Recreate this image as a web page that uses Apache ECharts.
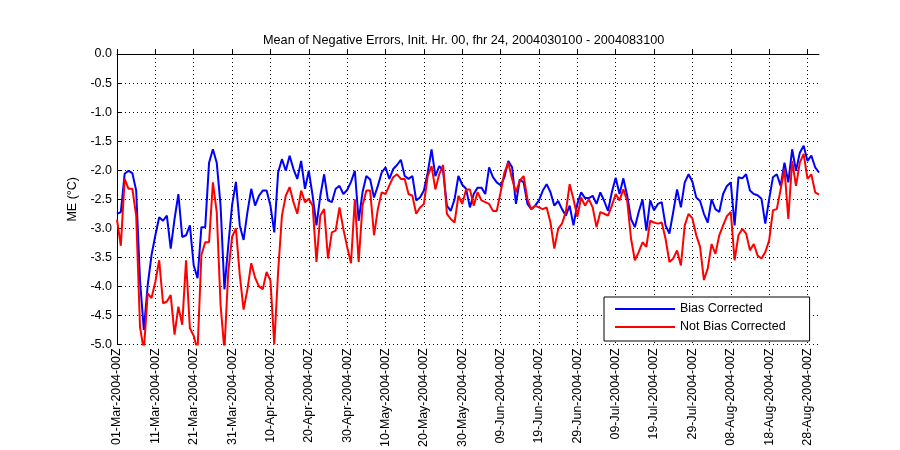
<!DOCTYPE html>
<html>
<head>
<meta charset="utf-8">
<title>Mean of Negative Errors</title>
<script src="https://cdn.jsdelivr.net/npm/echarts@6/dist/echarts.min.js"></script>
<style>
  html, body { margin: 0; padding: 0; background: #fff; }
  #chart { width: 900px; height: 450px; }
</style>
</head>
<body>
<div id="chart"></div>
<script>
// 日期 01-Mar-2004 .. 31-Aug-2004, 每天一个点
var startDay = [2004, 2, 1];
var dayCount = 184;
var monthNames = ['Jan', 'Feb', 'Mar', 'Apr', 'May', 'Jun', 'Jul', 'Aug', 'Sep', 'Oct', 'Nov', 'Dec'];

var biasCorrected = [
  -2.75, -2.72, -2.06, -2.01, -2.05, -2.35, -3.90, -4.75, -3.98, -3.46,
  -3.12, -2.81, -2.87, -2.78, -3.35, -2.84, -2.41, -3.15, -3.12, -2.95,
  -3.64, -3.86, -2.98, -2.98, -1.87, -1.64, -1.87, -2.61, -4.05, -3.30,
  -2.60, -2.20, -2.95, -3.20, -2.72, -2.32, -2.61, -2.44, -2.35, -2.35,
  -2.61, -3.07, -2.04, -1.81, -2.01, -1.75, -1.98, -2.15, -1.84, -2.32,
  -2.01, -2.44, -2.95, -2.44, -2.07, -2.52, -2.55, -2.32, -2.27, -2.41,
  -2.34, -2.20, -2.01, -2.87, -2.38, -2.10, -2.16, -2.47, -2.27, -2.04,
  -1.95, -2.15, -1.98, -1.91, -1.82, -2.10, -2.15, -2.10, -2.52, -2.47,
  -2.35, -2.04, -1.64, -2.10, -1.93, -2.01, -2.61, -2.70, -2.50, -2.10,
  -2.25, -2.32, -2.64, -2.41, -2.30, -2.30, -2.41, -1.95, -2.12, -2.21,
  -2.26, -2.12, -1.84, -1.95, -2.58, -2.16, -2.21, -2.58, -2.67, -2.61,
  -2.52, -2.35, -2.24, -2.38, -2.61, -2.53, -2.67, -2.78, -2.61, -2.95,
  -2.58, -2.38, -2.48, -2.48, -2.44, -2.58, -2.38, -2.53, -2.70, -2.38,
  -2.13, -2.41, -2.14, -2.44, -2.84, -2.98, -2.72, -2.50, -3.04, -2.52,
  -2.69, -2.58, -2.55, -2.95, -3.09, -2.72, -2.33, -2.64, -2.21, -2.07,
  -2.20, -2.47, -2.53, -2.75, -2.90, -2.50, -2.67, -2.72, -2.41, -2.27,
  -2.21, -2.95, -2.12, -2.14, -2.07, -2.35, -2.41, -2.43, -2.49, -2.92,
  -2.50, -2.12, -2.07, -2.27, -1.87, -2.21, -1.64, -2.01, -1.70, -1.58,
  -1.84, -1.75, -1.95, -2.04
];

var notBiasCorrected = [
  -2.85, -3.30, -2.15, -2.32, -2.32, -2.78, -4.70, -5.10, -4.12, -4.20,
  -3.92, -3.55, -4.29, -4.26, -4.15, -4.83, -4.35, -4.66, -3.55, -4.72,
  -4.85, -5.10, -3.46, -3.24, -3.24, -2.21, -2.72, -4.32, -5.10, -3.75,
  -3.15, -3.00, -3.80, -4.40, -4.05, -3.60, -3.85, -4.00, -4.05, -3.75,
  -3.90, -5.00, -3.75, -2.78, -2.44, -2.29, -2.55, -2.75, -2.35, -2.55,
  -2.49, -2.61, -3.58, -2.78, -2.67, -3.52, -3.07, -3.04, -2.64, -3.01,
  -3.32, -3.60, -2.50, -3.58, -2.61, -2.35, -2.35, -3.12, -2.67, -2.38,
  -2.41, -2.26, -2.12, -2.07, -2.15, -2.15, -2.41, -2.44, -2.75, -2.64,
  -2.58, -2.10, -1.93, -2.33, -2.07, -1.91, -2.75, -2.84, -2.90, -2.44,
  -2.58, -2.33, -2.33, -2.61, -2.38, -2.52, -2.55, -2.58, -2.70, -2.70,
  -2.38, -2.04, -1.87, -2.15, -2.38, -2.18, -2.10, -2.50, -2.67, -2.61,
  -2.64, -2.67, -2.64, -2.90, -3.35, -3.01, -2.92, -2.72, -2.24, -2.50,
  -2.80, -2.47, -2.61, -2.50, -2.64, -2.98, -2.72, -2.75, -2.78, -2.61,
  -2.41, -2.52, -2.33, -2.53, -3.18, -3.55, -3.41, -3.24, -3.32, -2.87,
  -2.90, -2.92, -2.90, -3.18, -3.58, -3.52, -3.38, -3.64, -2.95, -2.75,
  -2.83, -3.12, -3.32, -3.89, -3.69, -3.27, -3.44, -3.12, -2.95, -2.79,
  -2.72, -3.55, -3.12, -3.01, -3.09, -3.38, -3.27, -3.47, -3.52, -3.41,
  -3.21, -2.69, -2.67, -2.33, -1.98, -2.84, -1.84, -2.27, -1.87, -1.72,
  -2.15, -2.07, -2.38, -2.42
];

var seriesNames = ['Bias Corrected', 'Not Bias Corrected'];

// 类目: 01-Mar-2004-00Z 这种格式
var categories = [];
for (var i = 0; i < dayCount; i++) {
  var d = new Date(Date.UTC(startDay[0], startDay[1], startDay[2] + i));
  var dd = d.getUTCDate();
  categories.push((dd < 10 ? '0' : '') + dd + '-' + monthNames[d.getUTCMonth()] + '-' + d.getUTCFullYear() + '-00Z');
}

function everyTen(index) {
  return index % 10 === 0;
}

var font = 'Liberation Sans, Arial, Helvetica, sans-serif';

var myChart = echarts.init(document.getElementById('chart'));

var option = {
  backgroundColor: '#fff',
  animation: false,
  title: {
    text: 'Mean of Negative Errors, Init. Hr. 00, fhr 24, 2004030100 - 2004083100',
    left: 263,
    top: 34,
    padding: 0,
    textStyle: {
      fontFamily: font,
      fontSize: 12.7,
      fontWeight: 'normal',
      color: '#000'
    }
  },
  grid: {
    left: 117,
    right: 81,
    top: 54,
    bottom: 104
  },
  legend: {
    orient: 'vertical',
    left: 604,
    top: 297,
    data: seriesNames,
    icon: 'rect',
    itemWidth: 60,
    itemHeight: 2,
    itemGap: 4,
    padding: [5, 24, 7, 11],
    backgroundColor: '#fff',
    borderColor: '#000',
    borderWidth: 1,
    borderRadius: 0,
    textStyle: {
      fontFamily: font,
      fontSize: 12.5,
      color: '#000',
      lineHeight: 14
    }
  },
  xAxis: {
    type: 'category',
    data: categories,
    boundaryGap: false,
    axisLine: { lineStyle: { color: '#000', width: 1 } },
    axisTick: {
      inside: true,
      length: 5,
      interval: everyTen,
      lineStyle: { color: '#000' }
    },
    axisLabel: {
      interval: everyTen,
      rotate: 90,
      margin: 4,
      fontFamily: font,
      fontSize: 12.4,
      color: '#000'
    },
    splitLine: {
      show: true,
      interval: everyTen,
      lineStyle: { color: '#000', type: [1, 3], width: 1 }
    }
  },
  yAxis: {
    type: 'value',
    min: -5,
    max: 0,
    interval: 0.5,
    name: 'ME (°C)',
    nameLocation: 'middle',
    nameRotate: 90,
    nameGap: 38,
    nameTextStyle: {
      fontFamily: font,
      fontSize: 12.5,
      color: '#000'
    },
    axisLine: { show: true, lineStyle: { color: '#000', width: 1 } },
    axisTick: {
      show: true,
      inside: true,
      length: 5,
      lineStyle: { color: '#000' }
    },
    axisLabel: {
      margin: 5,
      fontFamily: font,
      fontSize: 12.5,
      color: '#000',
      formatter: function (v) {
        return v.toFixed(1);
      }
    },
    splitLine: {
      show: true,
      lineStyle: { color: '#000', type: [1, 3], width: 1 }
    }
  },
  series: [
    {
      name: seriesNames[0],
      type: 'line',
      data: biasCorrected,
      symbol: 'none',
      clip: true,
      lineStyle: { color: '#0000ff', width: 2 },
      itemStyle: { color: '#0000ff' }
    },
    {
      name: seriesNames[1],
      type: 'line',
      data: notBiasCorrected,
      symbol: 'none',
      clip: true,
      lineStyle: { color: '#ff0000', width: 2 },
      itemStyle: { color: '#ff0000' }
    }
  ]
};

myChart.setOption(option);
</script>
</body>
</html>
